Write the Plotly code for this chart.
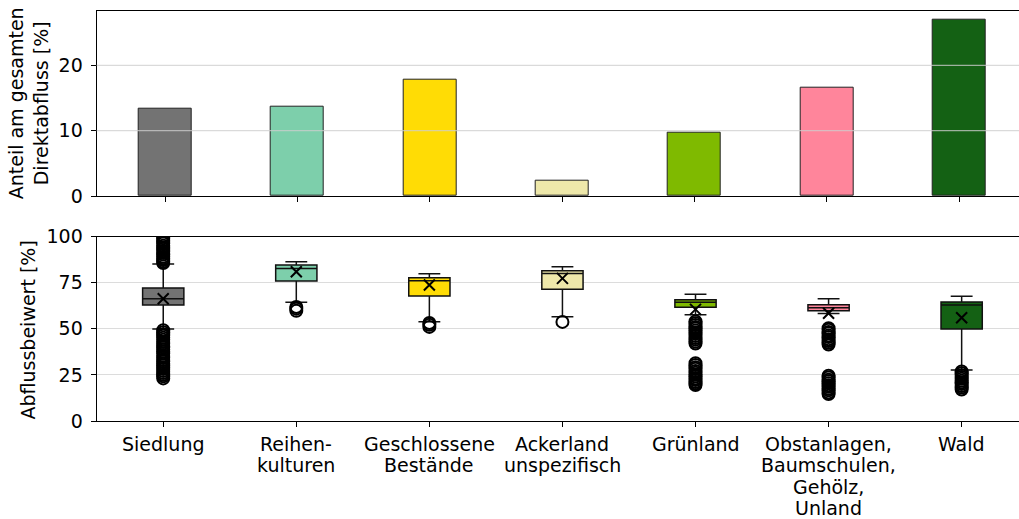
import plotly.graph_objects as go

# Land-use classes
categories = ["Siedlung", "Reihenkulturen", "Geschlossene Bestände", "Ackerland unspezifisch",
              "Grünland", "Obstanlagen, Baumschulen, Gehölz, Unland", "Wald"]
tick_labels = ["Siedlung", "Reihen-<br>kulturen", "Geschlossene<br>Bestände", "Ackerland<br>unspezifisch",
               "Grünland", "Obstanlagen,<br>Baumschulen,<br>Gehölz,<br>Unland", "Wald"]
colors = ["#737373", "#7dcfab", "#ffdc05", "#eee8aa", "#7fba00", "#ff859b", "#146114"]

# Share of total direct runoff [%]
share = [13.4, 13.6, 17.8, 2.3, 9.65, 16.6, 27.0]

# Runoff coefficient statistics [%]
q1 = [62.9, 75.9, 67.8, 71.4, 61.6, 59.8, 49.9]
median = [66.3, 82.7, 76.0, 80.0, 64.3, 61.4, 62.9]
q3 = [72.1, 84.6, 77.7, 81.5, 65.7, 63.0, 64.5]
lower_whisker = [49.9, 64.3, 53.8, 56.5, 57.6, 58.2, 27.6]
upper_whisker = [85.1, 86.3, 79.8, 83.6, 68.7, 66.3, 67.6]
mean = [66.3, 80.9, 73.7, 77.3, 60.5, 58.4, 56.0]

fliers_siedlung = [85.6, 86.4, 87.3, 88.1, 89.0, 90.2, 91.1, 92.0, 93.3, 94.1, 95.0, 96.2, 97.1, 98.0,
                   99.0, 100.0,
                   49.2, 48.1, 47.0, 46.2, 45.1, 44.0, 42.8, 41.9, 40.7, 39.8, 38.6, 37.5, 36.6, 35.2,
                   34.3, 33.1, 32.2, 31.0, 30.1, 29.0, 28.2, 27.1, 26.0, 25.1, 24.2, 23.1]
fliers_reihen = [61.8, 60.9, 59.7]
fliers_geschlossen = [53.1, 52.2, 51.0]
fliers_acker = [53.7]
fliers_gruen = [53.9, 53.0, 52.1, 51.0, 50.2, 49.1, 48.0, 47.2, 46.1, 45.0, 44.1, 43.0, 42.0,
                31.3, 30.4, 29.2, 28.3, 27.1, 26.2, 25.0, 24.1, 23.0, 22.2, 21.1, 20.3, 19.5]
fliers_obst = [50.3, 49.4, 48.3, 47.5, 46.4, 45.5, 44.3, 43.4, 42.4, 41.5,
               24.5, 23.6, 22.4, 21.5, 20.5, 19.4, 18.6, 17.5, 16.6, 15.5, 14.6]
fliers_wald = [26.8, 25.9, 24.8, 23.9, 22.9, 21.8, 20.9, 20.0, 19.0, 18.1, 17.1]
fliers = [fliers_siedlung, fliers_reihen, fliers_geschlossen, fliers_acker,
          fliers_gruen, fliers_obst, fliers_wald]

top_ticks = [0, 10, 20]
bottom_ticks = [0, 25, 50, 75, 100]

FONT = "DejaVu Sans"
W, H = 1019, 519
fig = go.Figure()

# Upper panel: share of direct runoff
fig.add_trace(go.Bar(
    x=categories, y=share, width=0.4,
    marker=dict(color=colors, line=dict(color="#222222", width=1)),
    xaxis="x", yaxis="y", showlegend=False,
))

# Lower panel: boxes, outliers and means
for cat, c, a, m, b, lo, hi, fl in zip(categories, colors, q1, median, q3,
                                      lower_whisker, upper_whisker, fliers):
    fig.add_trace(go.Box(
        x=[cat], q1=[a], median=[m], q3=[b], lowerfence=[lo], upperfence=[hi],
        width=0.31, whiskerwidth=0.53, fillcolor=c,
        line=dict(color="#111111", width=1.5),
        boxpoints=False, xaxis="x2", yaxis="y2", showlegend=False,
    ))
    fig.add_trace(go.Scatter(
        x=[cat] * len(fl), y=fl, mode="markers",
        marker=dict(symbol="circle-open", size=12, color="black", line=dict(width=2)),
        xaxis="x2", yaxis="y2", showlegend=False,
    ))

fig.add_trace(go.Scatter(
    x=categories, y=mean, mode="markers",
    marker=dict(symbol="x-thin-open", size=11, color="black", line=dict(width=2, color="black")),
    xaxis="x2", yaxis="y2", showlegend=False,
))

# Grid lines of the upper panel sit above the bars
shapes = []
for t in top_ticks[1:]:
    shapes.append(dict(type="line", xref="x domain", yref="y", x0=0, x1=1, y0=t, y1=t,
                       line=dict(color="rgba(205,205,205,0.75)", width=1.3), layer="above"))

# Category labels under the lower panel, one annotation per text line (tighter line spacing)
annotations = []
first_line_px, line_step_px = 444.0, 21.4
for cat, label in zip(categories, tick_labels):
    for j, line in enumerate(label.split("<br>")):
        annotations.append(dict(
            text=line, x=cat, xref="x2", y=1 - (first_line_px + j * line_step_px) / H,
            yref="paper", showarrow=False, xanchor="center", yanchor="middle",
            font=dict(family=FONT, size=19, color="black")))

annotations += [
    dict(text="Anteil am gesamten<br>Direktabfluss [%]", x=28.3 / W, y=1 - 103 / H,
         xref="paper", yref="paper", textangle=-90, showarrow=False,
         xanchor="center", yanchor="middle", font=dict(family=FONT, size=19)),
    dict(text="Abflussbeiwert [%]", x=27.5 / W, y=1 - 330 / H,
         xref="paper", yref="paper", textangle=-90, showarrow=False,
         xanchor="center", yanchor="middle", font=dict(family=FONT, size=19)),
]

axis_common = dict(showline=True, linecolor="black", linewidth=1.2, ticks="outside",
                   ticklen=5, tickwidth=1.2, tickcolor="black", zeroline=False,
                   automargin=False,
                   tickfont=dict(family=FONT, size=19, color="black"))

xdom = [96.7 / W, 1.0]
fig.update_layout(
    width=W, height=H,
    margin=dict(l=0, r=0, t=0, b=0),
    paper_bgcolor="white", plot_bgcolor="white",
    boxmode="overlay", bargap=0,
    font=dict(family=FONT, size=19, color="black"),
    xaxis=dict(domain=xdom, anchor="y", type="category", categoryarray=categories,
               range=[-0.5176, 6.451], showticklabels=False, mirror=True, showgrid=False,
               **axis_common),
    yaxis=dict(domain=[1 - 196 / H, 1 - 10.7 / H], anchor="x", range=[0, 28.35],
               tickvals=top_ticks, showgrid=False, ticklabelstandoff=4, **axis_common),
    xaxis2=dict(domain=xdom, anchor="y2", type="category", categoryarray=categories,
                range=[-0.5, 6.431], tickvals=categories, showticklabels=False,
                mirror=True, showgrid=False, **axis_common),
    yaxis2=dict(domain=[1 - 421 / H, 1 - 236.5 / H], anchor="x2", range=[0, 100],
                tickvals=bottom_ticks, showgrid=True, gridcolor="#dcdcdc", gridwidth=1.3,
                ticklabelstandoff=4, **axis_common),
    shapes=shapes,
    annotations=annotations,
)

fig.write_html("out.html")
